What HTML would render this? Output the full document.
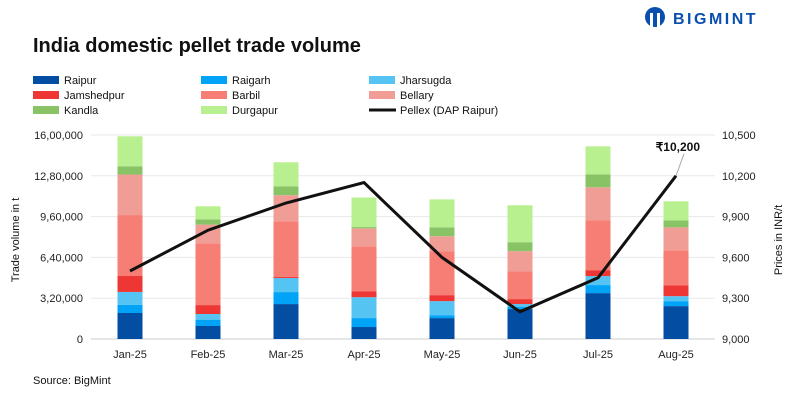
<!DOCTYPE html>
<html><head><meta charset="utf-8"><style>
body{margin:0;background:#fff;font-family:"Liberation Sans",sans-serif}
svg text{font-family:"Liberation Sans",sans-serif}
</style></head><body>
<svg id="c" width="799" height="400" xmlns="http://www.w3.org/2000/svg">
<g>
<circle cx="655" cy="17" r="10" fill="#0a4fb0"/>
<rect x="650" y="13" width="3" height="15" fill="#fff"/><rect x="657" y="13" width="3" height="15" fill="#fff"/>
<text x="673" y="24" font-size="16" font-weight="bold" fill="#0a4fb0" letter-spacing="2.5">BIGMINT</text>
</g>
<text x="33" y="52" font-size="20" font-weight="bold" fill="#111">India domestic pellet trade volume</text>
<g id="legend"></g>
<g id="grid"></g>
<g id="bars"></g>
<g id="line"></g>
<text transform="translate(19,240) rotate(-90)" font-size="11" text-anchor="middle" fill="#111">Trade volume in t</text>
<text transform="translate(782,240) rotate(-90)" font-size="11" text-anchor="middle" fill="#111">Prices in INR/t</text>
<text x="33" y="384" font-size="11" fill="#111">Source: BigMint</text>
</svg>
<script>
const categories=["Jan-25","Feb-25","Mar-25","Apr-25","May-25","Jun-25","Jul-25","Aug-25"];
const seriesNames=["Raipur","Raigarh","Jharsugda","Jamshedpur","Barbil","Bellary","Kandla","Durgapur"];
const seriesColors=["#034ea2","#00a3f5","#56c4f2","#ee3734","#f67e74","#f09d96","#88c465","#b8f08f"];
const raipur=[204000,102000,274000,94000,164000,235000,360000,258000];
const raigarh=[63000,47000,94000,70000,23000,16000,63000,39000];
const jharsugda=[102000,47000,110000,164000,110000,23000,70000,39000];
const jamshedpur=[125000,70000,8000,47000,47000,39000,47000,86000];
const barbil=[478000,485000,438000,352000,345000,219000,392000,274000];
const bellary=[318000,146000,204000,141000,117000,157000,258000,180000];
const kandla=[65000,42000,70000,10000,70000,70000,102000,55000];
const durgapur=[235000,102000,188000,232000,219000,290000,219000,149000];
const pellex=[9500,9800,10000,10150,9600,9200,9450,10200];
const leftTicks=["0","3,20,000","6,40,000","9,60,000","12,80,000","16,00,000"];
const leftTickValues=[0,320000,640000,960000,1280000,1600000];
const rightTicks=["9,000","9,300","9,600","9,900","10,200","10,500"];
const rightTickValues=[9000,9300,9600,9900,10200,10500];
const series=[raipur,raigarh,jharsugda,jamshedpur,barbil,bellary,kandla,durgapur];
const NS="http://www.w3.org/2000/svg";
const X0=91,X1=715,Y0=339,Y1=135;
const band=(X1-X0)/categories.length;
const xc=i=>X0+band*(i+0.5);
const yL=v=>Y0-(v/1600000)*(Y0-Y1);
const yR=v=>Y0-((v-9000)/1500)*(Y0-Y1);
function mk(t,a,p){const e=document.createElementNS(NS,t);for(const k in a)e.setAttribute(k,a[k]);p.appendChild(e);return e;}
const grid=document.getElementById('grid');
leftTickValues.forEach((v,i)=>{
 const l=mk('line',{x1:X0,x2:X1,y1:yL(v),y2:yL(v),stroke:i==0?'#ccc':'#e8e8e8','stroke-width':1},grid);
 
 
 const t=mk('text',{x:83,y:yL(v)+4,'font-size':11,'text-anchor':'end',fill:'#222'},grid);t.textContent=leftTicks[i];
 
 
});
rightTickValues.forEach((v,i)=>{
 const t=mk('text',{x:722,y:yR(v)+4,'font-size':11,fill:'#222'},grid);t.textContent=rightTicks[i];
 
 
});
categories.forEach((c,i)=>{
 const t=mk('text',{x:xc(i),y:358,'font-size':11,'text-anchor':'middle',fill:'#222'},grid);t.textContent=c;
 
 
});
const bars=document.getElementById('bars');
categories.forEach((c,i)=>{
 let cum=0;
 series.forEach((s,j)=>{
  const y1=yL(cum),y2=yL(cum+s[i]);cum+=s[i];
  const r=mk('rect',{x:xc(i)-12.5,y:y2,width:25,height:y1-y2,fill:seriesColors[j]},bars);
  
  
 });
});
const lg=document.getElementById('line');
const pts=pellex.map((v,i)=>xc(i)+','+yR(v)).join(' ');
const pl=mk('polyline',{points:pts,fill:'none',stroke:'#111','stroke-width':3,'stroke-linejoin':'miter'},lg);


const li=pellex.length-1;
mk('line',{x1:xc(li),y1:yR(pellex[li]),x2:xc(li)+8,y2:yR(pellex[li])-22,stroke:'#aaa','stroke-width':1},lg);
const lab=mk('text',{x:xc(li)+24,y:yR(pellex[li])-25,'font-size':12,'font-weight':'bold','text-anchor':'end',fill:'#111'},lg);
lab.textContent='₹10,200';


const leg=document.getElementById('legend');
const cols=[33,201,369],rows=[80,95,110];
seriesNames.concat(["Pellex (DAP Raipur)"]).forEach((n,k)=>{
 const x=cols[k%3],y=rows[Math.floor(k/3)];
 const g=mk('g',{},leg);
 
 
 if(k<8) mk('rect',{x:x,y:y-4,width:26,height:8,fill:seriesColors[k]},g);
 else mk('rect',{x:x,y:y-1.5,width:27,height:3,fill:'#111'},g);
 const t=mk('text',{x:x+31,y:y+4,'font-size':11,fill:'#111'},g);t.textContent=n;
});
</script>
</body></html>
